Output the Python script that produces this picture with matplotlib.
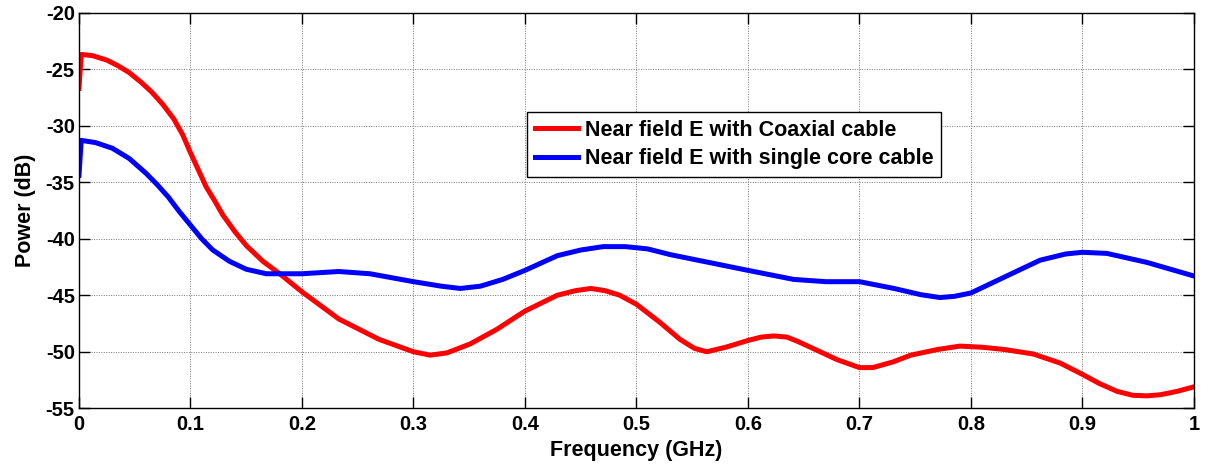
import matplotlib
matplotlib.use("Agg")
import matplotlib.pyplot as plt

# Near field E with Coaxial cable
freq_coax = [0, 0.002, 0.012, 0.025, 0.035, 0.045, 0.055, 0.065, 0.075, 0.085,
             0.093, 0.1, 0.107, 0.114, 0.122, 0.129, 0.14, 0.15, 0.165, 0.18,
             0.2, 0.233, 0.269, 0.3, 0.315, 0.33, 0.351, 0.375, 0.4, 0.429,
             0.445, 0.459, 0.472, 0.485, 0.5, 0.521, 0.539, 0.552, 0.563, 0.58,
             0.6, 0.612, 0.623, 0.635, 0.645, 0.656, 0.68, 0.7, 0.712, 0.73,
             0.746, 0.77, 0.79, 0.81, 0.83, 0.856, 0.88, 0.9, 0.915, 0.931,
             0.945, 0.958, 0.97, 0.985, 1.0]
power_coax = [-26.7, -23.7, -23.8, -24.2, -24.7, -25.3, -26.1, -27.0, -28.1, -29.4,
              -30.8, -32.4, -33.9, -35.4, -36.7, -37.9, -39.4, -40.6, -42.0, -43.1,
              -44.7, -47.1, -48.9, -50.0, -50.3, -50.1, -49.3, -48.0, -46.4, -45.0,
              -44.6, -44.4, -44.6, -45.0, -45.8, -47.4, -48.9, -49.7, -50.0, -49.6,
              -49.0, -48.7, -48.6, -48.7, -49.1, -49.6, -50.7, -51.4, -51.4, -50.9,
              -50.3, -49.8, -49.5, -49.6, -49.8, -50.2, -51.0, -52.0, -52.8, -53.5,
              -53.85, -53.9, -53.8, -53.5, -53.1]

# Near field E with single core cable
freq_single = [0, 0.002, 0.015, 0.03, 0.045, 0.06, 0.07, 0.08, 0.09, 0.1, 0.11,
               0.12, 0.135, 0.15, 0.168, 0.2, 0.233, 0.261, 0.3, 0.325, 0.342,
               0.36, 0.38, 0.4, 0.429, 0.45, 0.47, 0.49, 0.51, 0.53, 0.56,
               0.6, 0.641, 0.67, 0.7, 0.731, 0.755, 0.772, 0.785, 0.8, 0.832,
               0.862, 0.885, 0.9, 0.922, 0.958, 1.0]
power_single = [-34.4, -31.3, -31.5, -32.0, -32.9, -34.2, -35.2, -36.3, -37.6, -38.8, -40.0,
                -41.0, -42.0, -42.7, -43.1, -43.1, -42.9, -43.1, -43.8, -44.2, -44.4,
                -44.2, -43.6, -42.8, -41.5, -41.0, -40.7, -40.7, -40.9, -41.4, -42.0,
                -42.8, -43.6, -43.8, -43.8, -44.4, -44.95, -45.2, -45.1, -44.8, -43.3,
                -41.9, -41.35, -41.2, -41.3, -42.1, -43.3]

x_ticks = [0, 0.1, 0.2, 0.3, 0.4, 0.5, 0.6, 0.7, 0.8, 0.9, 1]
x_ticklabels = ["0", "0.1", "0.2", "0.3", "0.4", "0.5", "0.6", "0.7", "0.8", "0.9", "1"]
y_ticks = [-55, -50, -45, -40, -35, -30, -25, -20]

plt.rcParams['font.family'] = ['Liberation Sans', 'DejaVu Sans']
plt.rcParams['font.weight'] = 'bold'
plt.rcParams['axes.unicode_minus'] = False

fig = plt.figure(figsize=(12.06, 4.68), dpi=100)
ax = fig.add_axes([0.0655, 0.1276, 0.9245, 0.8454])

ax.plot(freq_coax, power_coax, color='#ff0000', linewidth=3.6,
        label='Near field E with Coaxial cable', solid_joinstyle='round')
ax.plot(freq_single, power_single, color='#0000ff', linewidth=3.6,
        label='Near field E with single core cable', solid_joinstyle='round')

ax.set_xlim(0, 1)
ax.set_ylim(-55, -20)
ax.set_xticks(x_ticks)
ax.set_xticklabels(x_ticklabels)
ax.set_yticks(y_ticks)

ax.grid(True, color='#777777', linestyle=(0, (1, 1.5)), linewidth=0.7)
ax.tick_params(direction='in', length=8, width=1, top=True, right=True,
               labelsize=14.5)
ax.tick_params(axis='x', pad=5)
ax.tick_params(axis='y', pad=3)
for lab in ax.get_xticklabels() + ax.get_yticklabels():
    lab.set_fontweight('bold')
for sp in ax.spines.values():
    sp.set_linewidth(1.0)

ax.set_xlabel("Frequency (GHz)", fontsize=15.5, fontweight='bold', labelpad=4)
ax.set_ylabel("Power (dB)", fontsize=15.5, fontweight='bold', labelpad=7)

leg = ax.legend(loc='upper left', bbox_to_anchor=(0.402, 0.7486), fontsize=15.5,
                frameon=True, fancybox=False, edgecolor='black', framealpha=1,
                handlelength=2.0, handletextpad=0.35, borderpad=0.35,
                labelspacing=0.35, borderaxespad=0)
leg.get_frame().set_linewidth(1.0)
for t in leg.get_texts():
    t.set_fontweight('bold')

fig.savefig("out.png", dpi=100)
